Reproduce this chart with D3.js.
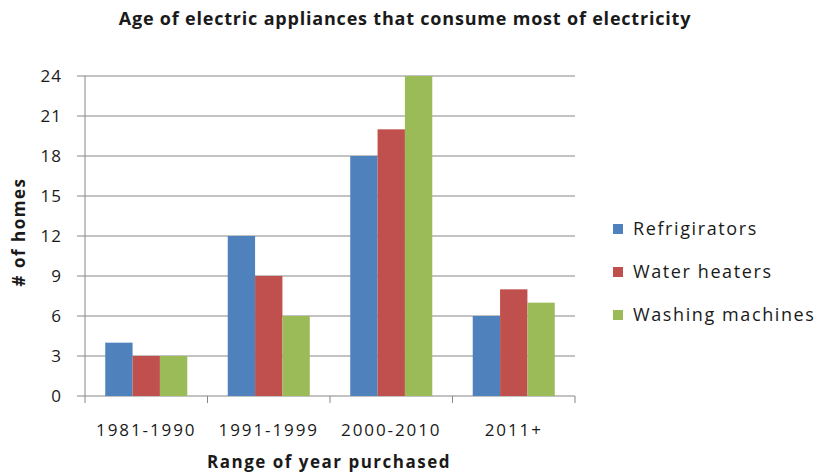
<!DOCTYPE html>
<html>
<head>
<meta charset="utf-8">
<script src="https://cdn.jsdelivr.net/npm/d3@7"></script>
<style>
  body { margin: 0; background: #fff; }
  text { font-family: "Open Sans", "Liberation Sans", sans-serif; }
</style>
</head>
<body>
<div id="chart"></div>
<script>
// data
var categories = ["1981-1990", "1991-1999", "2000-2010", "2011+"];
var seriesNames = ["Refrigirators", "Water heaters", "Washing machines"];
var refrigerators = [4, 12, 18, 6];
var waterHeaters = [3, 9, 20, 8];
var washingMachines = [3, 6, 24, 7];
var yTicks = [0, 3, 6, 9, 12, 15, 18, 21, 24];
var colors = ["#4F81BD", "#C0504D", "#9BBB59"];

var seriesValues = [refrigerators, waterHeaters, washingMachines];

width = 818;
height = 475;

var plotLeft = 85, plotRight = 575, plotTop = 76, plotBottom = 396;
var textColor = "#1a1a1a";

var svg = d3.select("#chart").append("svg")
    .attr("width", width)
    .attr("height", height);

var x = d3.scaleBand().domain(categories).range([plotLeft, plotRight]).paddingInner(0).paddingOuter(0);
var inner = d3.scaleBand().domain(seriesNames).range([0, x.bandwidth()]).paddingInner(0).paddingOuter(0.74);
var y = d3.scaleLinear().domain([0, 24]).range([plotBottom, plotTop]);

// gridlines
svg.append("g")
    .selectAll("line")
    .data(yTicks)
    .enter().append("line")
    .attr("x1", plotLeft - 8)
    .attr("x2", plotRight)
    .attr("y1", d => y(d))
    .attr("y2", d => y(d))
    .attr("stroke", "#868686")
    .attr("stroke-width", 1);

// bars
categories.forEach(function(cat, ci) {
    seriesNames.forEach(function(name, si) {
        svg.append("rect")
            .attr("x", x(cat) + inner(name))
            .attr("y", y(seriesValues[si][ci]))
            .attr("width", inner.bandwidth())
            .attr("height", y(0) - y(seriesValues[si][ci]))
            .attr("fill", colors[si]);
    });
});

// y axis line
svg.append("line")
    .attr("x1", plotLeft).attr("x2", plotLeft)
    .attr("y1", plotTop).attr("y2", plotBottom)
    .attr("stroke", "#868686");

// x axis ticks
var xTickPos = categories.map(c => x(c)).concat([plotRight]);
svg.append("g")
    .selectAll("line")
    .data(xTickPos)
    .enter().append("line")
    .attr("x1", d => d).attr("x2", d => d)
    .attr("y1", plotBottom).attr("y2", plotBottom + 7)
    .attr("stroke", "#868686");

// y tick labels
svg.append("g")
    .selectAll("text")
    .data(yTicks)
    .enter().append("text")
    .attr("x", 62)
    .attr("y", d => y(d))
    .attr("dy", "0.35em")
    .attr("text-anchor", "end")
    .attr("font-size", "17px")
    .attr("letter-spacing", "1px")
    .attr("fill", textColor)
    .text(d => d);

// x tick labels
svg.append("g")
    .selectAll("text")
    .data(categories)
    .enter().append("text")
    .attr("x", d => x(d) + x.bandwidth() / 2)
    .attr("y", 436)
    .attr("text-anchor", "middle")
    .attr("font-size", "17px")
    .attr("letter-spacing", "1.9px")
    .attr("fill", textColor)
    .text(d => d);

// titles
svg.append("text")
    .attr("x", 405)
    .attr("y", 25)
    .attr("text-anchor", "middle")
    .attr("font-size", "18px")
    .attr("font-weight", "bold")
    .attr("letter-spacing", "0.8px")
    .attr("fill", textColor)
    .text("Age of electric appliances that consume most of electricity");

svg.append("text")
    .attr("x", 329)
    .attr("y", 468)
    .attr("text-anchor", "middle")
    .attr("font-size", "17px")
    .attr("font-weight", "bold")
    .attr("letter-spacing", "1.5px")
    .attr("fill", textColor)
    .text("Range of year purchased");

svg.append("text")
    .attr("transform", "translate(25, 232) rotate(-90)")
    .attr("text-anchor", "middle")
    .attr("font-size", "17px")
    .attr("font-weight", "bold")
    .attr("letter-spacing", "1.5px")
    .attr("fill", textColor)
    .text("# of homes");

// legend
var legendY = [229, 272, 315];
var legend = svg.append("g")
    .selectAll("g")
    .data(seriesNames)
    .enter().append("g")
    .attr("transform", (d, i) => `translate(613, ${legendY[i]})`);

legend.append("rect")
    .attr("x", 0).attr("y", -5)
    .attr("width", 10).attr("height", 10)
    .attr("fill", (d, i) => colors[i]);

legend.append("text")
    .attr("x", 20)
    .attr("y", 0)
    .attr("dy", "0.35em")
    .attr("font-size", "18px")
    .attr("letter-spacing", "1.6px")
    .attr("fill", textColor)
    .text(d => d);
</script>
</body>
</html>
